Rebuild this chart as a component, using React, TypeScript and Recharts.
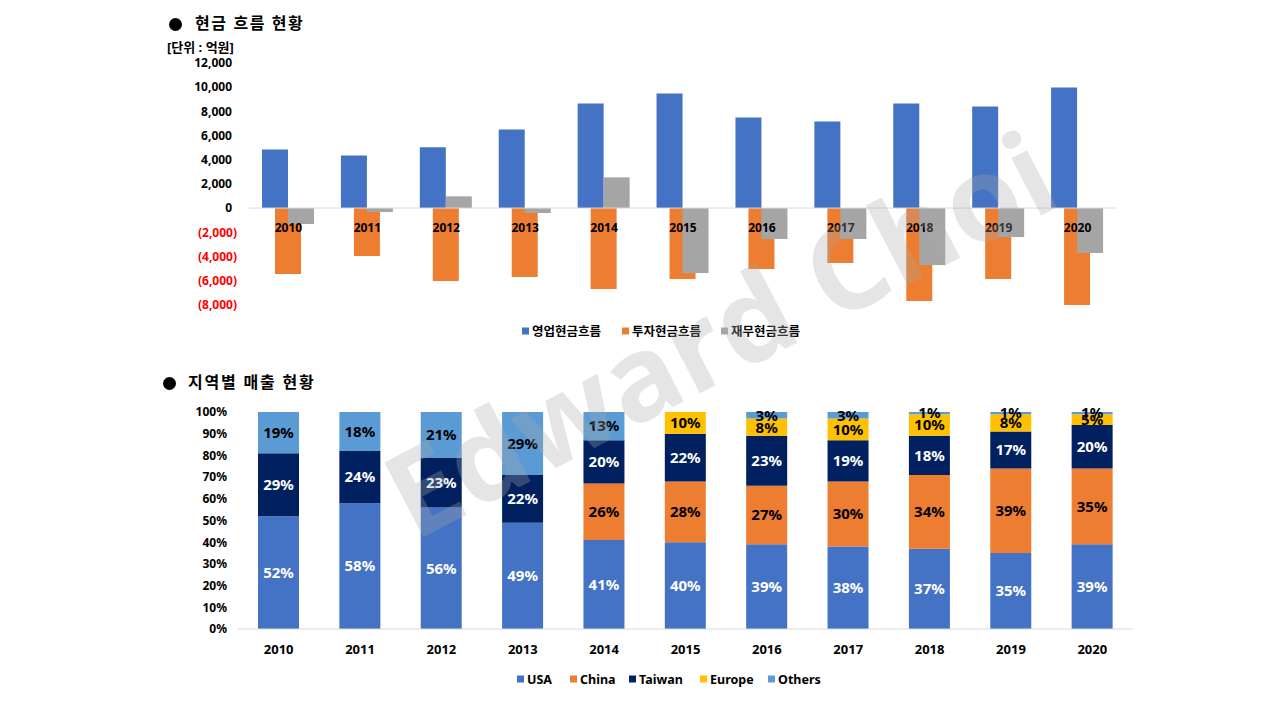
import React from "react";
import { BarChart, Bar, XAxis, YAxis, ReferenceLine, ReferenceDot, LabelList } from "recharts";

const FONT = '"Noto Sans", "Noto Sans CJK KR", sans-serif';

// 연도
const years = ["2010", "2011", "2012", "2013", "2014", "2015", "2016", "2017", "2018", "2019", "2020"];

// 현금 흐름 (억원)
const operatingCF = [4850, 4350, 5020, 6500, 8650, 9480, 7500, 7170, 8650, 8400, 9980];
const investingCF = [-5450, -3970, -6030, -5700, -6690, -5870, -5040, -4540, -7690, -5870, -8020];
const financingCF = [-1320, -330, 970, -410, 2540, -5370, -2560, -2560, -4710, -2400, -3720];
const cashTicks = [-8000, -6000, -4000, -2000, 0, 2000, 4000, 6000, 8000, 10000, 12000];

// 지역별 매출 비중 (%)
const usa = [52, 58, 56, 49, 41, 40, 39, 38, 37, 35, 39];
const china = [0, 0, 0, 0, 26, 28, 27, 30, 34, 39, 35];
const taiwan = [29, 24, 23, 22, 20, 22, 23, 19, 18, 17, 20];
const europe = [0, 0, 0, 0, 0, 10, 8, 10, 10, 8, 5];
const others = [19, 18, 21, 29, 13, 0, 3, 3, 1, 1, 1];
const pctTicks = [0, 10, 20, 30, 40, 50, 60, 70, 80, 90, 100];

const cashSeries = [
  { key: "operating", name: "영업현금흐름", color: "#4472C4" },
  { key: "investing", name: "투자현금흐름", color: "#ED7D31" },
  { key: "financing", name: "재무현금흐름", color: "#A5A5A5" },
];

const regionSeries = [
  { key: "usa", name: "USA", color: "#4472C4", text: "#FFFFFF" },
  { key: "china", name: "China", color: "#ED7D31", text: "#000000" },
  { key: "taiwan", name: "Taiwan", color: "#002060", text: "#FFFFFF" },
  { key: "europe", name: "Europe", color: "#FFC000", text: "#000000" },
  { key: "others", name: "Others", color: "#5B9BD5", text: "#000000" },
];

// legend marker left edges (px)
const cashLegendX = [522, 622, 721];
const regionLegendX = [517, 570, 629, 700, 768];

const cashData = years.map((year, i) => ({
  year,
  operating: operatingCF[i],
  investing: investingCF[i],
  financing: financingCF[i],
}));

const regionData = years.map((year, i) => ({
  year,
  usa: usa[i],
  china: china[i],
  taiwan: taiwan[i],
  europe: europe[i],
  others: others[i],
}));

function CashTick({ x, y, payload }: any) {
  const v = payload.value as number;
  const neg = v < 0;
  const txt = neg ? `(${Math.abs(v).toLocaleString("en-US")})` : v.toLocaleString("en-US");
  return (
    <text x={x} y={y} dx={neg ? 0 : -5} dy="0.36em" textAnchor="end" fill={neg ? "#FF0000" : "#000000"}
      fontSize={12} fontWeight={700} fontFamily={FONT}>
      {txt}
    </text>
  );
}

function PctTick({ x, y, payload }: any) {
  return (
    <text x={x} y={y} dy="0.36em" textAnchor="end" fill="#000000" fontSize={12} fontWeight={700} fontFamily={FONT}>
      {`${payload.value}%`}
    </text>
  );
}

function Txt({ x, cy, size, spacing = 0, children }: { x: number; cy: number; size: number; spacing?: number; children: React.ReactNode }) {
  return (
    <div style={{ position: "absolute", left: x, top: cy, transform: "translateY(-50%)", fontSize: size, lineHeight: 1.2, fontWeight: 700, letterSpacing: spacing, whiteSpace: "nowrap", color: "#000" }}>
      {children}
    </div>
  );
}

function Bullet({ cx, cy }: { cx: number; cy: number }) {
  return <div style={{ position: "absolute", left: cx - 6.5, top: cy - 6.5, width: 13, height: 13, borderRadius: "50%", background: "#000" }} />;
}

function LegendItems({ xs, cy, items, size }: any) {
  return (
    <>
      {items.map((s: any, i: number) => (
        <div key={s.key} style={{ position: "absolute", left: xs[i], top: cy, transform: "translateY(-50%)", display: "flex", alignItems: "center" }}>
          <div style={{ width: 7, height: 7, background: s.color, marginRight: 3 }} />
          <span style={{ fontSize: size, fontWeight: 700, lineHeight: 1.2, whiteSpace: "nowrap" }}>{s.name}</span>
        </div>
      ))}
    </>
  );
}

export default function App() {
  return (
    <div style={{ position: "absolute", left: 0, top: 0, width: 1280, height: 720, background: "#FFFFFF", fontFamily: FONT, overflow: "hidden" }}>
      <Bullet cx={175} cy={24} />
      <Txt x={195} cy={24} size={16} spacing={1.6}>현금 흐름 현황</Txt>
      <Txt x={167} cy={48} size={13}>[단위 : 억원]</Txt>

      <div style={{ position: "absolute", left: 160, top: 50 }}>
        <BarChart width={960} height={270} data={cashData} margin={{ top: 13, right: 3, bottom: 15, left: 0 }}
          barGap={-13} barCategoryGap={0}>
          <XAxis dataKey="year" hide />
          <YAxis width={89} domain={[-8000, 12000]} ticks={cashTicks} interval={0} axisLine={false} tickLine={false}
            tickMargin={6} tick={(p: any) => <CashTick {...p} />} />
          <ReferenceLine y={0} stroke="#D9D9D9" strokeWidth={1} />
          {cashSeries.map((s) => (
            <Bar key={s.key} dataKey={s.key} name={s.name} fill={s.color} barSize={26} isAnimationActive={false} />
          ))}
          {years.map((year) => (
            <ReferenceDot key={year} x={year} y={0} r={0} fill="none" stroke="none"
              label={{ value: year, position: "bottom", offset: 15, fill: "#000000", fontSize: 12, fontWeight: 700, fontFamily: FONT }} />
          ))}
        </BarChart>
      </div>

      <LegendItems xs={cashLegendX} cy={331} items={cashSeries} size={12.5} />

      <Bullet cx={169} cy={383} />
      <Txt x={188} cy={383} size={16} spacing={1.8}>지역별 매출 현황</Txt>

      <div style={{ position: "absolute", left: 160, top: 400 }}>
        <BarChart width={980} height={270} data={regionData} margin={{ top: 12, right: 7, bottom: 11, left: 0 }}
          barCategoryGap={0}>
          <XAxis dataKey="year" height={30} interval={0} axisLine={{ stroke: "#D9D9D9" }} tickLine={false} tickMargin={10}
            tick={{ fill: "#000000", fontSize: 13, fontWeight: 700, fontFamily: FONT }} />
          <YAxis width={78} domain={[0, 100]} ticks={pctTicks} interval={0} axisLine={false} tickLine={false}
            tickMargin={5} tick={(p: any) => <PctTick {...p} />} />
          {regionSeries.map((s) => (
            <Bar key={s.key} dataKey={s.key} name={s.name} stackId="region" fill={s.color} barSize={41} isAnimationActive={false}>
              <LabelList dataKey={s.key} position="center" fill={s.text} fontSize={15} fontWeight={700} fontFamily={FONT}
                formatter={(v: any) => (v ? `${v}%` : "")} />
            </Bar>
          ))}
        </BarChart>
      </div>

      <LegendItems xs={regionLegendX} cy={679} items={regionSeries} size={12.5} />

      <svg width={1280} height={720} style={{ position: "absolute", left: 0, top: 0, pointerEvents: "none" }}>
        <text transform="translate(414 542) rotate(-27.5)" fontSize={118} fontWeight={700}
          fontFamily='"Open Sans", sans-serif' fill="#AAAAAA" fillOpacity={0.3}>
          Edward Choi
        </text>
      </svg>
    </div>
  );
}
